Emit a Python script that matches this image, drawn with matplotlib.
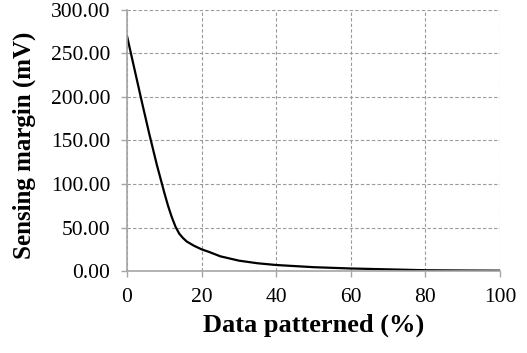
import numpy as np
import matplotlib
matplotlib.use("Agg")
from matplotlib import pyplot as plt
from matplotlib.ticker import FormatStrFormatter

# sensing margin vs. fraction of data patterned
pattern_pct = [0, 2, 4, 6, 8, 9, 10, 11, 12, 13, 14, 15, 16, 18, 20, 22, 25, 30, 35, 40, 50, 60, 70, 80, 90, 100]
margin_mv = [270, 232, 194, 157, 122, 106, 90, 75, 62, 51, 43, 38, 34, 29, 25, 22, 17, 12, 9, 7, 4.5, 3, 2, 1, 0.7, 0.5]

x_ticks = [0, 20, 40, 60, 80, 100]
y_ticks = [0, 50, 100, 150, 200, 250, 300]

plt.rcParams['font.family'] = ['Liberation Serif', 'DejaVu Serif']

fig = plt.figure(figsize=(5.27, 3.53), dpi=100)
ax = fig.add_axes([0.241, 0.232, 0.708, 0.740])

ax.plot(pattern_pct, margin_mv, color='black', linewidth=1.6)

ax.set_xlim(0, 100)
ax.set_ylim(0, 300)
ax.set_xticks(x_ticks)
ax.set_yticks(y_ticks)
ax.yaxis.set_major_formatter(FormatStrFormatter('%.2f'))

ax.grid(True, color='#999999', linestyle=(0, (3, 2)), linewidth=0.8)
ax.set_axisbelow(True)
for s in ['top', 'right']:
    ax.spines[s].set_visible(False)
for s in ['left', 'bottom']:
    ax.spines[s].set_color('#a6a6a6')
    ax.spines[s].set_linewidth(1.2)
ax.tick_params(axis='both', colors='#a6a6a6', labelcolor='black', labelsize=15.5, length=4, width=1)
ax.tick_params(axis='y', pad=8)
ax.tick_params(axis='x', pad=8)

ax.set_xlabel('Data patterned (%)', fontsize=19, fontweight='bold', va='center')
ax.set_ylabel('Sensing margin (mV)', fontsize=18, fontweight='bold', va='center')
ax.xaxis.set_label_coords(0.5, -0.207)
ax.yaxis.set_label_coords(-0.275, 0.48)

fig.savefig('out.png', dpi=100)
